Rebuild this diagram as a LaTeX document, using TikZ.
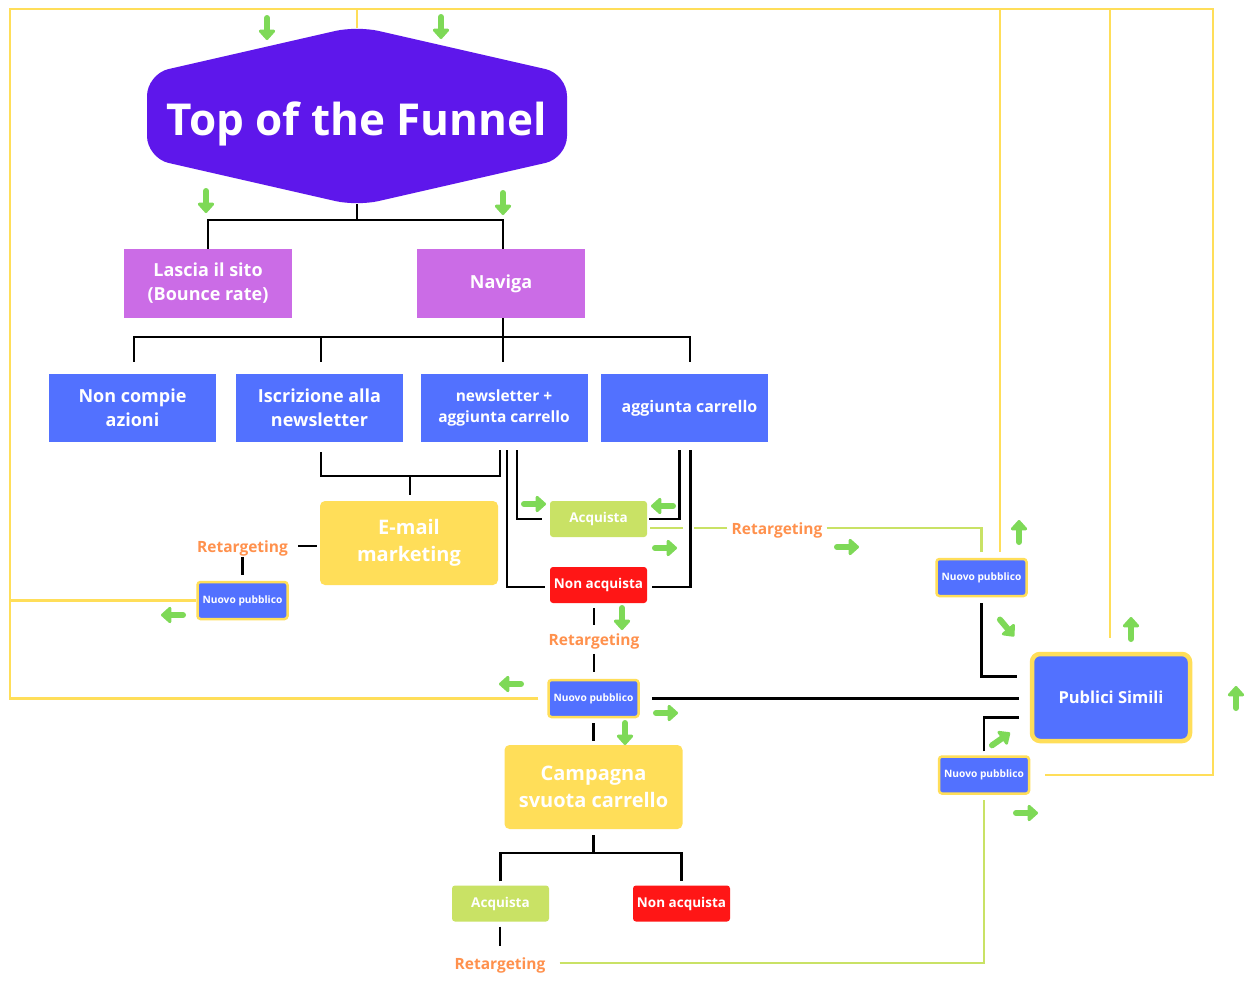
\documentclass[tikz,border=0pt]{standalone}
\usepackage{fontspec}
\setmainfont{Open Sans}
\usepackage{tikz}
\usetikzlibrary{arrows.meta,positioning,calc}
\definecolor{funnel}{HTML}{5E17EB}
\definecolor{lilac}{HTML}{CB6CE6}
\definecolor{boxblue}{HTML}{5271FF}
\definecolor{boxyellow}{HTML}{FFDE59}
\definecolor{lime}{HTML}{C9E265}
\definecolor{boxred}{HTML}{FF1616}
\definecolor{retorange}{HTML}{FF914D}
\definecolor{arrgreen}{HTML}{7ED957}
\newcommand{\fs}[2]{\fontsize{#1}{#2}\selectfont}

\begin{document}
\begin{tikzpicture}[x=1pt,y=-1pt,
base/.style={align=center,text=white,inner sep=0pt,font=\bfseries\fs{18}{24}},
purplebox/.style={base,fill=lilac,minimum width=168pt,minimum height=69pt},
bluebox/.style={base,fill=boxblue,minimum width=167pt,minimum height=68pt},
yellowbox/.style={base,fill=boxyellow,rounded corners=5pt,minimum width=178pt,minimum height=84pt,font=\bfseries\fs{20}{27}},
resbox/.style={base,rounded corners=3pt,minimum width=97pt,minimum height=36pt,font=\bfseries\fs{13.5}{16}},
newbox/.style={base,fill=boxblue,draw=boxyellow,line width=2.5pt,rounded corners=3pt,minimum width=90pt,minimum height=37pt,font=\bfseries\fs{10.2}{12}},
retlabel/.style={inner sep=0pt,text=retorange,font=\bfseries\fs{15.5}{18},anchor=base},
conn/.style={draw=black,line width=2.3pt},
yline/.style={draw=boxyellow,line width=2.3pt},
gline/.style={draw=lime,line width=2.3pt},
garrow/.style={draw=arrgreen,line width=6pt,line cap=round,-{Triangle[length=11pt,width=19pt,round]}}]
\fill[white] (0,0) rectangle (1249,980);
\useasboundingbox (0,0) rectangle (1249,980);

% top of the funnel
\fill[funnel,rounded corners=22pt] (357,26) -- (567,74) -- (567,158) -- (357,206) -- (147,158) -- (147,74) -- cycle;
\node[base,font=\bfseries\fs{44}{50},anchor=base] (top) at (357,135) {Top of the Funnel};
\coordinate (topn) at (357,28);
\coordinate (tops) at (357,204);

\node[purplebox] (lascia) at (208,283.5) {Lascia il sito\\(Bounce rate)};
\node[purplebox] (naviga) at (501,283.5) {Naviga};
\node[bluebox] (noncompie) at (132.5,408) {Non compie\\azioni};
\node[bluebox] (iscrizione) at (319.5,408) {Iscrizione alla\\newsletter};
\node[bluebox,font=\bfseries\fs{15.5}{21}] (newsagg) at (504,408) {newsletter +\\aggiunta carrello};
\node[bluebox,font=\bfseries\fs{16}{21}] (aggiunta) at (684.5,408) {\hspace*{10pt}aggiunta carrello};
\node[yellowbox] (email) at (409,543) {E-mail\\marketing};
\node[resbox,fill=lime] (acquista1) at (598.5,519) {Acquista};
\node[resbox,fill=boxred] (nonacq1) at (598.5,585) {Non acquista};
\node[retlabel] (ret1) at (242.5,552) {Retargeting};
\node[retlabel] (ret2) at (777,534) {Retargeting};
\node[retlabel] (ret3) at (594,645) {Retargeting};
\node[newbox] (nuovo1) at (242.5,600.5) {Nuovo pubblico};
\node[newbox] (nuovo2) at (593.5,698.5) {Nuovo pubblico};
\node[newbox] (nuovo3) at (981.5,577.5) {Nuovo pubblico};
\node[newbox] (nuovo4) at (984,775) {Nuovo pubblico};
\node[base,fill=boxblue,draw=boxyellow,line width=4.5pt,rounded corners=8pt,minimum width=158pt,minimum height=87pt,font=\bfseries\fs{16.5}{20}] (simili) at (1111,697.5) {Publici Simili};
\node[yellowbox] (campagna) at (593.5,787) {Campagna\\svuota carrello};
\node[resbox,fill=lime] (acquista2) at (500.5,903.5) {Acquista};
\node[resbox,fill=boxred] (nonacq2) at (681.5,903.5) {Non acquista};
\node[retlabel] (ret4) at (500,969) {Retargeting};

% black tree lines
\draw[conn] (tops) -- ++(0,16) coordinate (tj);
\draw[conn] (lascia.north) |- (tj) -| ($(naviga.north)+(2,0)$);
\draw[conn] ($(naviga.south)+(2,0)$) -- ++(0,19) coordinate (nj);
\draw[conn] ($(noncompie.north)+(1.5,-12)$) |- (nj) -| ($(aggiunta.north)+(5.5,-12)$);
\draw[conn] ($(iscrizione.north)+(1.5,-12)$) |- (nj);
\draw[conn] (nj) -- ($(nj |- newsagg.north)+(0,-12)$);
\draw[conn] ($(iscrizione.south)+(1.5,10)$) |- ($(newsagg.south)+(-4,34)$) -- ($(newsagg.south)+(-4,8)$);
\draw[conn] ($(email.north)+(1,-25)$) -- ($(email.north)+(1,-6)$);
\draw[conn] ($(newsagg.south)+(3,8)$) |- ($(nonacq1.west)+(-5,2)$);
\draw[conn] ($(newsagg.south)+(13,8)$) |- ($(acquista1.west)+(-8,0)$);
\draw[conn] ($(aggiunta.south)+(-5,8)$) |- ($(acquista1.east)+(2,0)$);
\draw[conn] ($(aggiunta.south)+(6,8)$) |- ($(nonacq1.east)+(5,2)$);
\draw[conn] ($(ret3.north |- nonacq1.south)+(0,5)$) -- ($(ret3.north)+(0,-8)$);
\draw[conn] ($(ret3.south)+(0,5)$) -- ($(ret3.south |- nuovo2.north)+(0,-7)$);
\draw[conn] ($(nuovo2.south)+(0,5)$) -- ($(campagna.north)+(0,-4)$);
\draw[conn] ($(campagna.south)+(0,6)$) -- ++(0,18) coordinate (cj);
\draw[conn] ($(acquista2.north)+(0,-4)$) |- (cj) -| ($(nonacq2.north)+(0,-4)$);
\draw[conn] ($(ret4.north |- acquista2.south)+(0,5)$) -- ($(ret4.north)+(0,-11)$);
\draw[conn] ($(ret1.east)+(10,-2)$) -- ($(ret1.east -| email.west)+(-3,-2)$);
\draw[conn] ($(ret1.south)+(0,1)$) -- ($(nuovo1.north)+(0,-6)$);
\draw[conn] ($(nuovo2.east)+(12,0)$) -- ($(nuovo2.east -| simili.west)+(-11,0)$);
\draw[conn] ($(nuovo3.south)+(0,6)$) |- ($(simili.west)+(-13,-21)$);
\draw[conn] ($(nuovo4.north)+(0,-4)$) |- ($(simili.west)+(-11,20)$);

% retargeting lines
\draw[gline] ($(acquista1.east |- ret2.west)+(3,-2)$) -- ++(33,0);
\draw[gline] ($(ret2.west)+(-4,-2)$) -- ++(-33,0);
\draw[gline] ($(ret2.east)+(4,-2)$) -| ($(nuovo3.north)+(0,-6)$);
\draw[gline] ($(ret4.east)+(14,-2)$) -| ($(nuovo4.south)+(0,5)$);

% yellow loops back to the top
\coordinate (fl) at (10,9);
\coordinate (fr) at (1213,9);
\coordinate (y3) at ($(nuovo3.north)+(18.5,-6)$);
\coordinate (y4) at ($(simili.north)+(-1,-14)$);
\draw[yline] ($(nuovo2.west)+(-9,0)$) -| (fl) -| (fr) |- ($(nuovo4.east)+(15,0)$);
\draw[yline] (nuovo1.west) -- (nuovo1.west -| fl);
\draw[yline] (topn) -- (topn |- fl);
\draw[yline] (y3) -- (y3 |- fl);
\draw[yline] (y4) -- (y4 |- fl);

% green arrows
\foreach \x/\y/\a in {267/29/90,441/28/90,206/202/90,503/204/90,535/504/0,662/506/180,666/548/0,
  848/547/0,1019/531/-90,172/615/180,622/619/90,510/684/180,667/713/0,625/734/90,
  1007/628/50,1131/628/-90,1236/697/-90,1001/739/-35,1027/813/0}
  \draw[garrow] (\x,\y) ++(\a+180:11) -- ++(\a:22);
\end{tikzpicture}
\end{document}
